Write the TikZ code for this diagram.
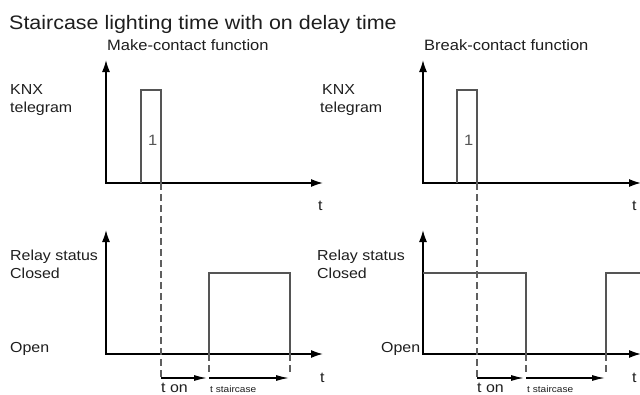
\documentclass[tikz,border=0pt]{standalone}
\usepackage{fontspec}
\setmainfont{Liberation Sans}[FakeStretch=1.1]
\usetikzlibrary{arrows.meta, positioning}
\definecolor{cAxis}{RGB}{0, 0, 0}
\definecolor{cSignal}{RGB}{85, 85, 85}
\definecolor{cGuide}{RGB}{95, 95, 95}
\definecolor{cText}{RGB}{30, 30, 30}
\tikzset{
    % --- axes ---
    axisLine/.style={
        draw=cAxis, line width=1.6pt,
        {Latex[length=12pt, width=8pt]}-{Latex[length=12pt, width=8pt]}
    },
    %
    % --- signals ---
    signalLine/.style={draw=cSignal, line width=1.1pt},
    guideDashed/.style={draw=cGuide, line width=1.1pt, dash pattern=on 7pt off 4pt},
    spanArrow/.style={
        draw=cAxis, line width=1.3pt,
        -{Latex[length=13pt, width=6pt]}
    },
    %
    % --- texts ---
    lbl/.style={anchor=base west, inner sep=0pt, text=cText,
        font=\fontsize{14.5}{17}\selectfont},
    headLbl/.style={lbl, font=\fontsize{15}{18}\selectfont},
    titleLbl/.style={lbl, font=\fontsize{19.5}{23}\selectfont},
    smallLbl/.style={lbl, font=\fontsize{9.2}{11}\selectfont},
    pulseLbl/.style={lbl, text=cSignal, font=\fontsize{15}{18}\selectfont}
}

\begin{document}
\begin{tikzpicture}[x=1pt, y=-1pt]

	\useasboundingbox (0,0) rectangle (640,394);

	% =========================================
	% 1. Titles
	% =========================================

	\node [titleLbl] (title) at (9,29) {Staircase lighting time with on delay time};
	\node [headLbl] (makeHead) at (107,50) {Make-contact function};
	\node [headLbl] (breakHead) at (424,50) {Break-contact function};

	% =========================================
	% 2. Make-contact function
	% =========================================

	% KNX telegram
	\node [lbl] (knxA) at (10,94) {KNX};
	\node [lbl] (telA) at (10,112) {telegram};
	\draw [axisLine] (106,60) -- (106,183) -- (323,183);
	\node [lbl] (tA) at (318,210) {t};
	\draw [signalLine] (141,183) -- (141,90) -- (161,90) -- (161,183);
	\node [pulseLbl] (oneA) at (148,145) {1};

	% Relay status
	\node [lbl] (relayA) at (10,260) {Relay status};
	\node [lbl] (closedA) at (10,278) {Closed};
	\node [lbl] (openA) at (10,352) {Open};
	\draw [axisLine] (106,230) -- (106,354) -- (323,354);
	\node [lbl] (tB) at (320,382) {t};
	\draw [signalLine] (209,354) -- (209,273) -- (290,273) -- (290,354);

	% times
	\draw [guideDashed] (161,183) -- (161,378);
	\draw [guideDashed] (209,354) -- (209,375);
	\draw [guideDashed] (290,354) -- (290,375);
	\draw [spanArrow] (161,378) -- (207,378);
	\draw [spanArrow] (209,378) -- (289,378);
	\node [lbl] (tonA) at (161,392) {t on};
	\node [smallLbl] (tstairA) at (210,392) {t staircase};

	% =========================================
	% 3. Break-contact function
	% =========================================

	% KNX telegram
	\node [lbl] (knxB) at (322,94) {KNX};
	\node [lbl] (telB) at (320,112) {telegram};
	\draw [axisLine] (423,60) -- (423,183) -- (641,183);
	\node [lbl] (tC) at (632,210) {t};
	\draw [signalLine] (457,183) -- (457,90) -- (477,90) -- (477,183);
	\node [pulseLbl] (oneB) at (464,145) {1};

	% Relay status
	\node [lbl] (relayB) at (317,260) {Relay status};
	\node [lbl] (closedB) at (317,278) {Closed};
	\node [lbl] (openB) at (381,352) {Open};
	\draw [axisLine] (423,230) -- (423,354) -- (641,354);
	\node [lbl] (tD) at (632,382) {t};
	\draw [signalLine] (423,273) -- (526,273) -- (526,354);
	\draw [signalLine] (606,354) -- (606,273) -- (641,273);

	% times
	\draw [guideDashed] (477,183) -- (477,378);
	\draw [guideDashed] (526,354) -- (526,375);
	\draw [guideDashed] (606,354) -- (606,375);
	\draw [spanArrow] (477,378) -- (524,378);
	\draw [spanArrow] (526,378) -- (605,378);
	\node [lbl] (tonB) at (477,392) {t on};
	\node [smallLbl] (tstairB) at (527,392) {t staircase};

\end{tikzpicture}
\end{document}
